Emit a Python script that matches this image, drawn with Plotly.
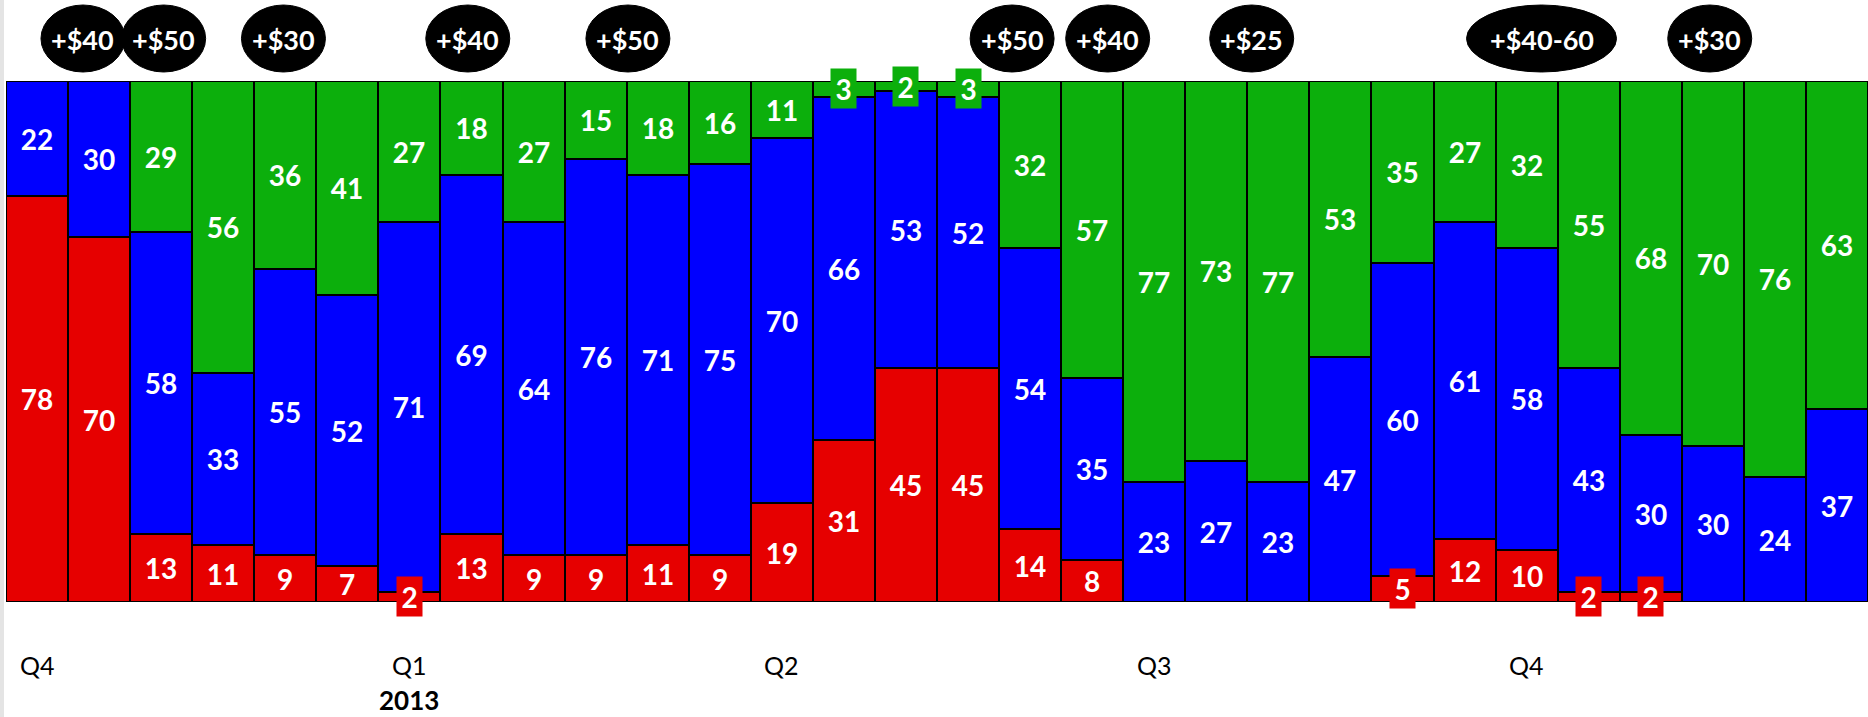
import plotly.graph_objects as go

# ---------------- data ----------------
weeks = list(range(30))
red_vals = [78, 70, 13, 11, 9, 7, 2, 13, 9, 9, 11, 9, 19, 31, 45, 45, 14, 8, 0, 0, 0, 0, 5, 12, 10, 2, 2, 0, 0, 0]
blue_vals = [22, 30, 58, 33, 55, 52, 71, 69, 64, 76, 71, 75, 70, 66, 53, 52, 54, 35, 23, 27, 23, 47, 60, 61, 58, 43, 30, 30, 24, 37]
green_vals = [0, 0, 29, 56, 36, 41, 27, 18, 27, 15, 18, 16, 11, 3, 2, 3, 32, 57, 77, 73, 77, 53, 35, 27, 32, 55, 68, 70, 76, 63]

quarter_labels = ["Q4", "Q1", "Q2", "Q3", "Q4"]
quarter_at = [0, 6, 12, 18, 24]
year_label = "2013"
year_at = 6

price_labels = ["+$40", "+$50", "+$30", "+$40", "+$50", "+$50", "+$40", "+$25", "+$40-60", "+$30"]
price_at = [0.74, 2.04, 3.97, 6.94, 9.52, 15.71, 17.25, 19.57, 24.24, 26.95]

# ---------------- style ----------------
RED = "#E60000"
BLUE = "#0000FF"
GREEN = "#0CAF0C"
FONT = "Lato"
SMALL = 5  # segments this small get a boxed label

fig = go.Figure()
series = [(red_vals, RED), (blue_vals, BLUE), (green_vals, GREEN)]
for vals, col in series:
    fig.add_trace(go.Bar(
        x=weeks, y=vals,
        marker=dict(color=col, line=dict(color="black", width=2)),
        text=[str(v) if v > SMALL else "" for v in vals],
        texttemplate="%{text}",
        textposition="inside", insidetextanchor="middle", textangle=0,
        textfont=dict(family=FONT, size=28, color="white", weight="bold"),
        hoverinfo="skip", showlegend=False,
    ))

annotations = []
shapes = []

# boxed labels for tiny segments
for i in weeks:
    base = 0
    for vals, col in series:
        v = vals[i]
        if 0 < v <= SMALL:
            annotations.append(dict(
                x=i, y=base + v / 2, xref="x", yref="y",
                text=str(v), showarrow=False,
                font=dict(family=FONT, size=28, color="white", weight="bold"),
                bgcolor=col, borderpad=0, width=25, height=39,
                xanchor="center", yanchor="middle",
            ))
        base += v

# price-change bubbles
for lab, pos in zip(price_labels, price_at):
    half = 42 if len(lab) <= 4 else 75
    shapes.append(dict(
        type="circle", xref="x", yref="paper",
        xsizemode="pixel", ysizemode="pixel",
        xanchor=pos, yanchor=1,
        x0=-half, x1=half, y0=9, y1=76,
        fillcolor="black", line=dict(color="black", width=1), layer="above",
    ))
    annotations.append(dict(
        x=pos, y=1, xref="x", yref="paper", yshift=42,
        text=lab, showarrow=False,
        font=dict(family=FONT, size=27, color="white", weight="bold"),
        xanchor="center", yanchor="middle",
    ))

# quarter labels
for lab, pos in zip(quarter_labels, quarter_at):
    annotations.append(dict(
        x=pos, y=0, xref="x", yref="paper", yshift=-63,
        text=lab, showarrow=False,
        font=dict(family=FONT, size=25, color="black"),
        xanchor="center", yanchor="middle",
    ))
annotations.append(dict(
    x=year_at, y=0, xref="x", yref="paper", yshift=-98,
    text=year_label, showarrow=False,
    font=dict(family=FONT, size=26, color="black", weight="bold"),
    xanchor="center", yanchor="middle",
))

# faint gray strip on the far left edge
shapes.append(dict(type="rect", xref="paper", yref="paper",
                   x0=-6 / 1862, x1=-2 / 1862, y0=-0.25, y1=1.2,
                   fillcolor="#e4e4e4", line=dict(width=0), layer="below"))

fig.update_layout(
    width=1868, height=717, autosize=False,
    margin=dict(l=6, r=0, t=81, b=115),
    barmode="stack", bargap=0,
    plot_bgcolor="white", paper_bgcolor="white",
    xaxis=dict(range=[-0.5, 29.5], showticklabels=False, showgrid=False,
               zeroline=False, showline=False, fixedrange=True),
    yaxis=dict(range=[0, 100], visible=False, fixedrange=True),
    uniformtext=dict(minsize=28, mode="show"),
    annotations=annotations, shapes=shapes,
)

fig.write_html(
    "out.html",
    config={"displayModeBar": False},
    post_script="document.body.style.margin='0';document.body.style.overflow='hidden';",
)
